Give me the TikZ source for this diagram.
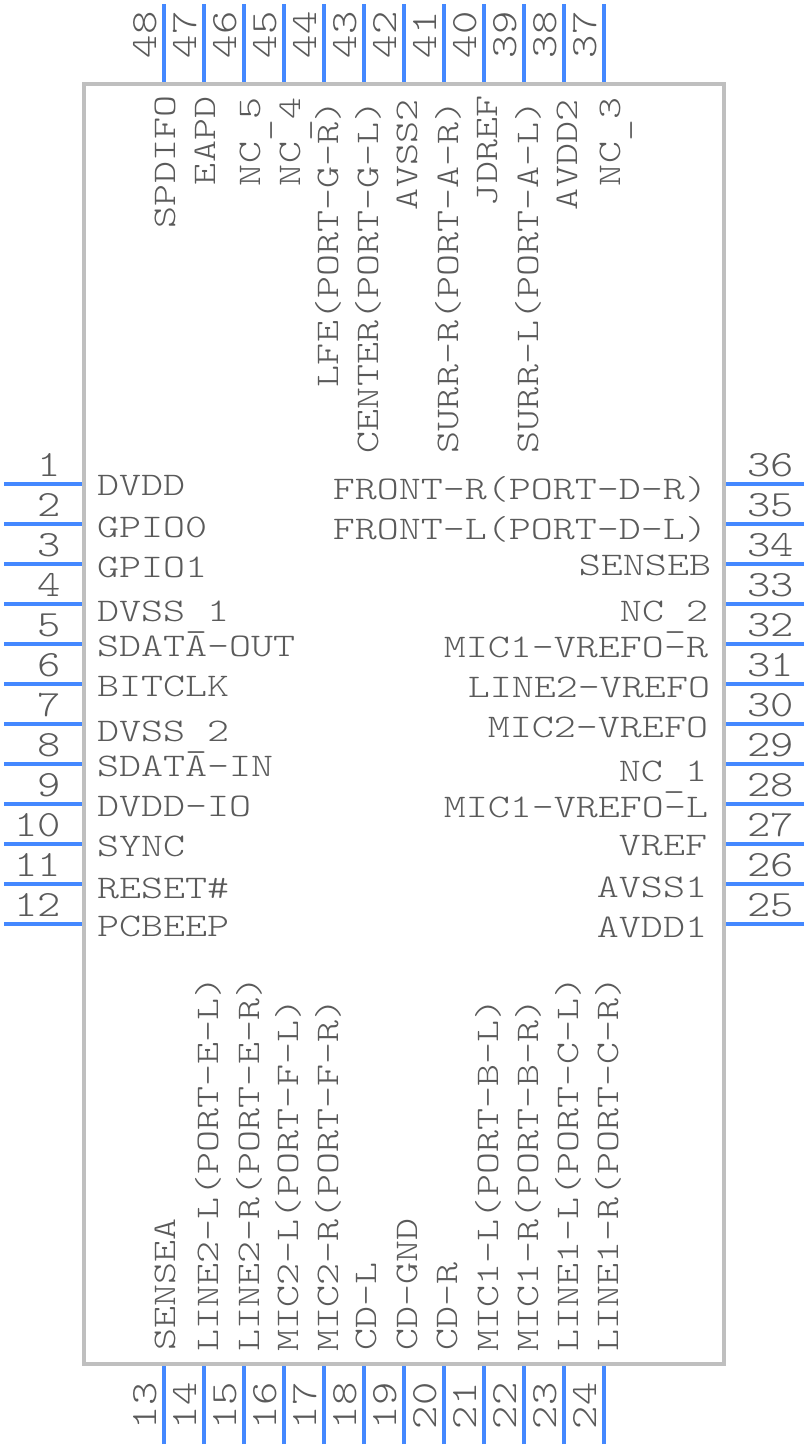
\documentclass[tikz,border=0pt]{standalone}
\usepackage{fontspec}
\newfontfamily\lblfont[FakeStretch=1.27]{Latin Modern Mono Light}
\newfontfamily\numfont[FakeStretch=1.2]{Latin Modern Mono Light}
\definecolor{pinblue}{HTML}{4488FF}
\definecolor{bodygray}{HTML}{BFBFBF}
\definecolor{txtgray}{HTML}{5A5A5A}
\newcommand{\us}{\raisebox{-6pt}{\_}}
\tikzset{
  pinline/.style={draw=pinblue,line width=4pt},
  chipbody/.style={draw=bodygray,line width=4pt,fill=white,outer sep=0pt},
  lbl/.style={inner sep=0pt,outer sep=0pt,text=txtgray,font=\lblfont\fontsize{33}{33}\selectfont},
  lblL/.style={lbl,anchor=base west},
  lblR/.style={lbl,anchor=base east},
  lblV/.style={lbl,anchor=base west,rotate=90},
  num/.style={inner sep=0pt,outer sep=0pt,text=txtgray,font=\numfont\fontsize{37}{37}\selectfont},
  numH/.style={num,anchor=base east},
  numV/.style={num,anchor=base west,rotate=90},
}
\begin{document}
\begin{tikzpicture}[x=1pt,y=-1pt]
\useasboundingbox (0,0) rectangle (808,1448);
\node[chipbody,minimum width=640pt,minimum height=1280pt,inner sep=0pt,anchor=north west] (chip) at (84,84) {};
% pins
\foreach \i in {1,...,12} {
  \pgfmathsetmacro{\yy}{444+40*\i}
  \coordinate (pin\i a) at (4,\yy); \coordinate (pin\i b) at (82,\yy);
  \draw[pinline] (pin\i a) -- (pin\i b);
}
\foreach \i in {13,...,24} {
  \pgfmathsetmacro{\xx}{164+40*(\i-13)}
  \coordinate (pin\i a) at (\xx,1444); \coordinate (pin\i b) at (\xx,1366);
  \draw[pinline] (pin\i a) -- (pin\i b);
}
\foreach \i in {25,...,36} {
  \pgfmathsetmacro{\yy}{924-40*(\i-25)}
  \coordinate (pin\i a) at (804,\yy); \coordinate (pin\i b) at (726,\yy);
  \draw[pinline] (pin\i a) -- (pin\i b);
}
\foreach \i in {37,...,48} {
  \pgfmathsetmacro{\xx}{604-40*(\i-37)}
  \coordinate (pin\i a) at (\xx,4); \coordinate (pin\i b) at (\xx,82);
  \draw[pinline] (pin\i a) -- (pin\i b);
}
% pin numbers
\foreach \i in {1,...,12} {
  \pgfmathsetmacro{\yy}{476+40*(\i-1)}
  \node[numH] (n\i) at (61,\yy) {\i};
}
\foreach \i in {13,...,24} {
  \pgfmathsetmacro{\xx}{156+40*(\i-13)}
  \node[numV] (n\i) at (\xx,1429) {\i};
}
\foreach \i in {25,...,36} {
  \pgfmathsetmacro{\yy}{916-40*(\i-25)}
  \node[numH] (n\i) at (794,\yy) {\i};
}
\foreach \i in {37,...,48} {
  \pgfmathsetmacro{\xx}{596-40*(\i-37)}
  \node[numV] (n\i) at (\xx,58) {\i};
}
% left labels
\node[lblL] (l1) at (97,495) {DVDD};
\node[lblL] (l2) at (97,537) {GPIO0};
\node[lblL] (l3) at (97,577) {GPIO1};
\node[lblL] (l4) at (97,621) {DVSS\us 1};
\node[lblL] (l5) at (97,656) {SDATA-OUT};
\node[lblL] (l6) at (97,696) {BITCLK};
\node[lblL] (l7) at (97,741) {DVSS\us 2};
\node[lblL] (l8) at (97,776) {SDATA-IN};
\node[lblL] (l9) at (97,816) {DVDD-IO};
\node[lblL] (l10) at (97,856) {SYNC};
\node[lblL] (l11) at (97,898) {RESET\#};
\node[lblL] (l12) at (97,936) {PCBEEP};
% right labels
\node[lblR] (l36) at (707,499) {FRONT-R(PORT-D-R)};
\node[lblR] (l35) at (707,539) {FRONT-L(PORT-D-L)};
\node[lblR] (l34) at (711,575) {SENSEB};
\node[lblR] (l33) at (708,621) {NC\us 2};
\node[lblR] (l32) at (708,657) {MIC1-VREFO-R};
\node[lblR] (l31) at (710,697) {LINE2-VREFO};
\node[lblR] (l30) at (708,737) {MIC2-VREFO};
\node[lblR] (l29) at (707,781) {NC\us 1};
\node[lblR] (l28) at (708,817) {MIC1-VREFO-L};
\node[lblR] (l27) at (707,855) {VREF};
\node[lblR] (l26) at (707,897) {AVSS1};
\node[lblR] (l25) at (707,937) {AVDD1};
% top labels
\node[lblV] (l48) at (175,228) {SPDIFO};
\node[lblV] (l47) at (215,185) {EAPD};
\node[lblV] (l46) at (260,186) {NC\us 5};
\node[lblV] (l45) at (300,186) {NC\us 4};
\node[lblV] (l44) at (338,387) {LFE(PORT-G-R)};
\node[lblV] (l43) at (378,453) {CENTER(PORT-G-L)};
\node[lblV] (l42) at (417,210) {AVSS2};
\node[lblV] (l41) at (458,453) {SURR-R(PORT-A-R)};
\node[lblV] (l40) at (497,206) {JDREF};
\node[lblV] (l39) at (538,453) {SURR-L(PORT-A-L)};
\node[lblV] (l38) at (577,210) {AVDD2};
\node[lblV] (l37) at (620,186) {NC\us 3};
% bottom labels
\node[lblV] (l13) at (175,1350) {SENSEA};
\node[lblV] (l14) at (218,1351) {LINE2-L(PORT-E-L)};
\node[lblV] (l15) at (259,1351) {LINE2-R(PORT-E-R)};
\node[lblV] (l16) at (298,1351) {MIC2-L(PORT-F-L)};
\node[lblV] (l17) at (338,1351) {MIC2-R(PORT-F-R)};
\node[lblV] (l18) at (376,1350) {CD-L};
\node[lblV] (l19) at (417,1350) {CD-GND};
\node[lblV] (l20) at (457,1350) {CD-R};
\node[lblV] (l21) at (498,1351) {MIC1-L(PORT-B-L)};
\node[lblV] (l22) at (538,1351) {MIC1-R(PORT-B-R)};
\node[lblV] (l23) at (578,1351) {LINE1-L(PORT-C-L)};
\node[lblV] (l24) at (618,1351) {LINE1-R(PORT-C-R)};
\end{tikzpicture}
\end{document}
